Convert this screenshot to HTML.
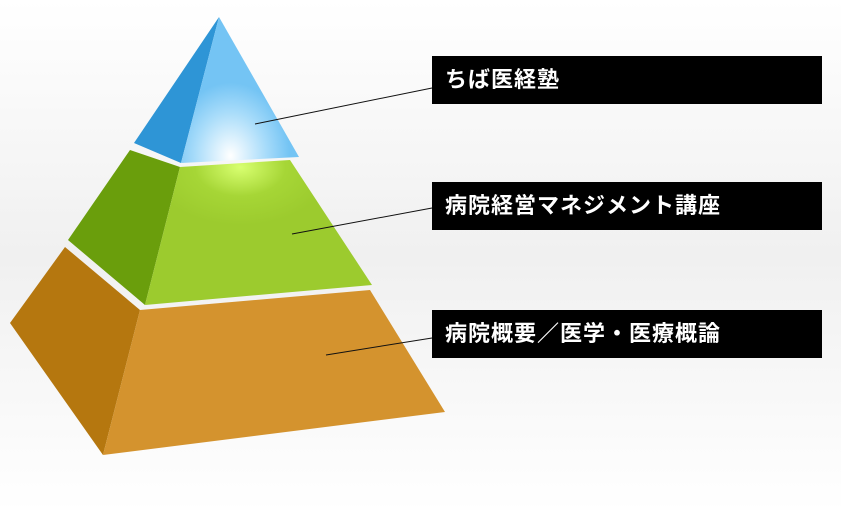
<!DOCTYPE html>
<html><head><meta charset="utf-8"><style>
body{margin:0;width:841px;height:512px;overflow:hidden;background:#fff;font-family:"Liberation Sans","Noto Sans CJK JP",sans-serif}
.b{position:absolute;left:432px;width:390px;height:48px;background:#000;color:#fff;font-weight:bold;font-size:22px;letter-spacing:1px;line-height:48px;padding-left:13px;box-sizing:border-box}
</style></head><body>
<svg width="841" height="512" style="position:absolute;left:0;top:0">
<defs>
<linearGradient id="bg" x1="0" y1="0" x2="0" y2="1"><stop offset="0" stop-color="#fff"/><stop offset="0.5" stop-color="#f0f0f0"/><stop offset="1" stop-color="#fff"/></linearGradient>
<radialGradient id="gb" cx="0.42" cy="0.95" r="0.5"><stop offset="0" stop-color="#fff"/><stop offset="0.6" stop-color="#a8dcfa"/><stop offset="1" stop-color="#74c4f4"/></radialGradient>
<radialGradient id="gg" cx="0.42" cy="0.05" r="0.4"><stop offset="0" stop-color="#d8ff70"/><stop offset="0.5" stop-color="#a6d636"/><stop offset="1" stop-color="#9ccb2e"/></radialGradient>
</defs>
<rect width="841" height="512" fill="url(#bg)"/>
<polygon points="219,17 134,143 181,163" fill="#2e95d6"/>
<polygon points="219,17 181,163 299,157" fill="url(#gb)"/>
<polygon points="130,150 180,167 145,305 68,240" fill="#6a9e0c"/>
<polygon points="180,167 290,160 372,285 145,305" fill="url(#gg)"/>
<polygon points="65,247 140,310 103,455 10,323" fill="#b5770f"/>
<polygon points="140,310 370,290 445,412 103,455" fill="#d4932e"/>
<g stroke="#111" stroke-width="1">
<line x1="255" y1="124" x2="432" y2="88"/>
<line x1="292" y1="234" x2="432" y2="208"/>
<line x1="326" y1="355" x2="432" y2="338"/>
</g>
</svg>
<div class="b" style="top:56px">ちば医経塾</div>
<div class="b" style="top:182px">病院経営マネジメント講座</div>
<div class="b" style="top:310px">病院概要／医学・医療概論</div>
</body></html>
